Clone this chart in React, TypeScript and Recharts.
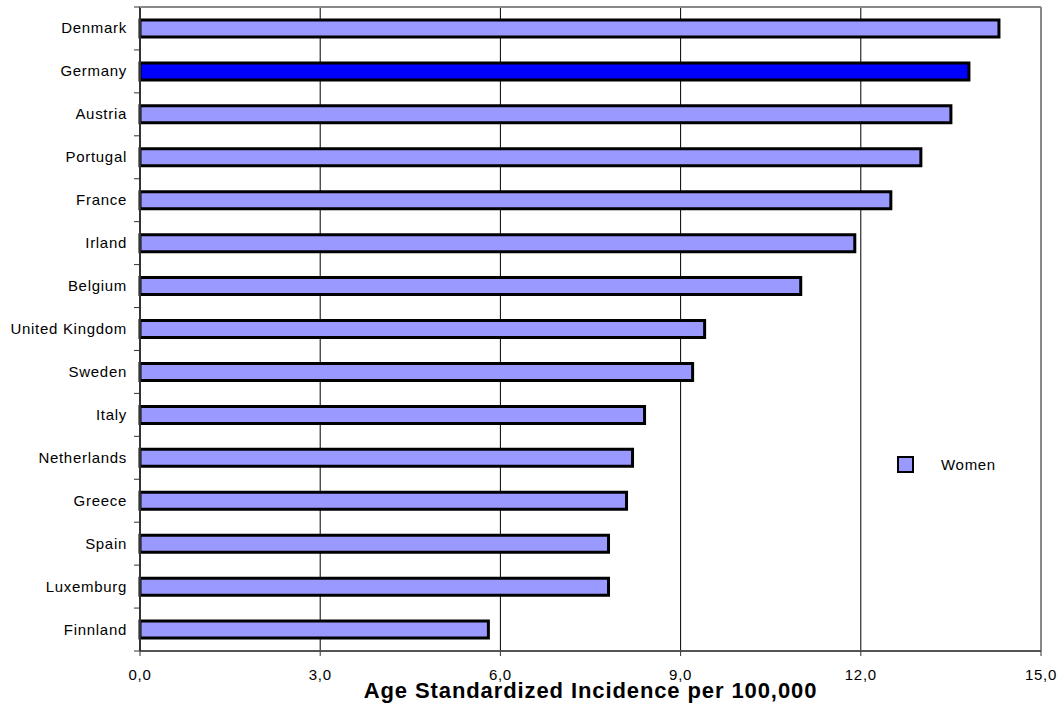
import { BarChart, Bar, XAxis, YAxis, CartesianGrid, Cell, ReferenceLine } from "recharts";

const countries = [
  "Denmark", "Germany", "Austria", "Portugal", "France", "Irland", "Belgium",
  "United Kingdom", "Sweden", "Italy", "Netherlands", "Greece", "Spain", "Luxemburg", "Finnland",
];
const women = [14.3, 13.8, 13.5, 13.0, 12.5, 11.9, 11.0, 9.4, 9.2, 8.4, 8.2, 8.1, 7.8, 7.8, 5.8];
const highlight = "Germany";
const xTicks = [0, 3, 6, 9, 12, 15];

const data = countries.map((c, i) => ({ country: c, women: women[i] }));

const FONT = "'Liberation Sans', Arial, sans-serif";
const PLOT_TOP = 7;
const AXIS_H = 57;
const HEIGHT = 708;

// label + tick mark at the band boundaries
const CountryTick = (props: any) => {
  const { x, y, payload, index } = props;
  const band = (HEIGHT - PLOT_TOP - AXIS_H) / countries.length;
  return (
    <g>
      <text x={x - 13} y={y} dy={5} textAnchor="end" fontSize={15} letterSpacing={0.7} fontFamily={FONT} fill="#000">
        {payload.value}
      </text>
      <line x1={x - 6} x2={x} y1={y - band / 2} y2={y - band / 2} stroke="#333" />
      {index === countries.length - 1 && (
        <line x1={x - 6} x2={x} y1={y + band / 2} y2={y + band / 2} stroke="#333" />
      )}
    </g>
  );
};

const AxisTitle = (props: any) => {
  const vb = props.viewBox;
  return (
    <text
      x={vb.x + vb.width / 2}
      y={vb.y + 47}
      textAnchor="middle"
      fontSize={22}
      fontWeight="bold"
      letterSpacing={0.9}
      fontFamily={FONT}
      fill="#000"
    >
      Age Standardized Incidence per 100,000
    </text>
  );
};

export default function App() {
  return (
    <div style={{ position: "absolute", left: 0, top: 0, background: "#fff" }}>
      <BarChart
        width={1058}
        height={HEIGHT}
        data={data}
        layout="vertical"
        margin={{ top: PLOT_TOP, right: 17, left: 0, bottom: 0 }}
        barCategoryGap={0}
      >
        <CartesianGrid horizontal={false} vertical stroke="#000" strokeWidth={1} />
        <ReferenceLine x={15} stroke="#888" strokeWidth={2} />
        <XAxis
          type="number"
          domain={[0, 15]}
          ticks={xTicks}
          interval={0}
          tickFormatter={(v: number) => v.toFixed(1).replace(".", ",")}
          tick={{ fontSize: 15, letterSpacing: 0.7, fontFamily: FONT, fill: "#000" }}
          tickLine={{ stroke: "#333" }}
          tickSize={5}
          tickMargin={13}
          axisLine={{ stroke: "#555", strokeWidth: 2 }}
          label={<AxisTitle />}
          height={AXIS_H}
        />
        <YAxis
          type="category"
          dataKey="country"
          width={140}
          interval={0}
          tickLine={false}
          tickSize={0}
          tickMargin={0}
          axisLine={{ stroke: "#333", strokeWidth: 2 }}
          tick={<CountryTick />}
        />
        <Bar dataKey="women" name="Women" barSize={17} stroke="#000" strokeWidth={3} isAnimationActive={false}>
          {data.map((d) => (
            <Cell key={d.country} fill={d.country === highlight ? "#0000FF" : "#9999FF"} />
          ))}
        </Bar>
      </BarChart>
      <svg width={1058} height={HEIGHT} style={{ position: "absolute", left: 0, top: 0, pointerEvents: "none" }}>
        <line x1={140} x2={1041} y1={PLOT_TOP} y2={PLOT_TOP} stroke="#888" strokeWidth={2} />
      </svg>
      <div
        style={{
          position: "absolute", left: 897, top: 456, display: "flex", alignItems: "center",
          fontFamily: FONT, fontSize: 15, letterSpacing: 0.7,
        }}
      >
        <span style={{ width: 13, height: 13, background: "#9999FF", border: "2px solid #000", display: "inline-block" }} />
        <span style={{ marginLeft: 27 }}>Women</span>
      </div>
    </div>
  );
}
